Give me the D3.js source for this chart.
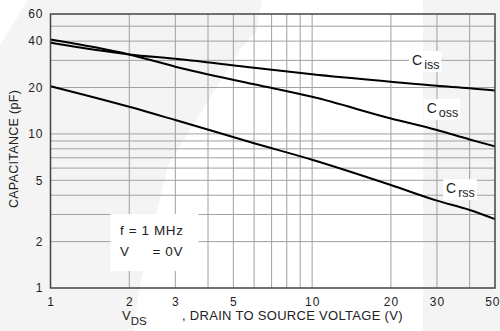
<!DOCTYPE html>
<html>
<head>
<meta charset="utf-8">
<script src="https://cdn.jsdelivr.net/npm/d3@7"></script>
<style>
  body { margin: 0; background: #fff; }
  text { font-family: "Liberation Sans", Arial, sans-serif; fill: #222; }
</style>
</head>
<body>
<script>
// drain-source voltage (V) where the curves were read
const vds = [1, 2, 3, 6, 10, 20, 30, 40, 50];

// capacitances in pF
const ciss = [39, 32.8, 30.7, 26.9, 24.4, 21.8, 20.5, 19.8, 19.1];
const coss = [41, 32.8, 27.3, 21.0, 17.4, 12.6, 10.6, 9.2, 8.3];
const crss = [20.4, 15.0, 12.3, 8.7, 6.8, 4.66, 3.69, 3.21, 2.8];

const xTicks = [1, 2, 3, 5, 10, 20, 30, 50];
const yTicks = [1, 2, 5, 10, 20, 40, 60];
const xGrid = [2, 3, 4, 5, 6, 7, 8, 9, 10, 20, 30, 40];
const yGrid = [2, 3, 4, 5, 6, 7, 8, 9, 10, 20, 30, 40, 50];

const curveLabels = [
  {name: 'C', sub: 'iss', x: 24.1, y: 28},
  {name: 'C', sub: 'oss', x: 27.4, y: 13.7},
  {name: 'C', sub: 'rss', x: 32.5, y: 4.13}
];

drawChart();

function drawChart() {
  const W = 500, H = 331;
  const margin = {top: 14, right: 5, bottom: 43, left: 50.5};
  const width = W - margin.left - margin.right;
  const height = H - margin.top - margin.bottom;

  const root = d3.select('body').append('svg')
    .attr('width', W)
    .attr('height', H);

  // faint watermark in the background
  root.append('rect').attr('width', W).attr('height', H).attr('fill', '#f4f4f4');
  root.append('polygon')
    .attr('points', '262,0 423,0 423,331 133,331 140,285 168,165 240,50 257,30')
    .attr('fill', '#fff');
  root.append('polygon')
    .attr('points', '0,0 28,0 0,45')
    .attr('fill', '#fff');

  const svg = root.append('g')
    .attr('transform', `translate(${margin.left}, ${margin.top})`);

  const xScale = d3.scaleLog()
    .domain([1, 50])
    .range([0, width]);

  const yScale = d3.scaleLog()
    .domain([1, 60])
    .range([height, 0]);

  // grid
  svg.append('g').selectAll('line')
    .data(xGrid)
    .enter().append('line')
    .attr('x1', d => xScale(d)).attr('x2', d => xScale(d))
    .attr('y1', 0).attr('y2', height)
    .attr('stroke', '#a0a0a0').attr('stroke-width', 1);

  svg.append('g').selectAll('line')
    .data(yGrid)
    .enter().append('line')
    .attr('y1', d => yScale(d)).attr('y2', d => yScale(d))
    .attr('x1', 0).attr('x2', width)
    .attr('stroke', '#a0a0a0').attr('stroke-width', 1);

  // curves
  const series = [ciss, coss, crss];
  const line = d3.line()
    .x((d, i) => xScale(vds[i]))
    .y(d => yScale(d))
    .curve(d3.curveMonotoneX);

  svg.selectAll('path.curve')
    .data(series)
    .enter().append('path')
    .attr('class', 'curve')
    .attr('d', d => line(d))
    .attr('fill', 'none')
    .attr('stroke', '#000')
    .attr('stroke-width', 2);

  // frame
  svg.append('rect')
    .attr('width', width).attr('height', height)
    .attr('fill', 'none')
    .attr('stroke', '#444')
    .attr('stroke-width', 1.5);

  // axes (labels only, the frame is drawn above)
  const bottomAxis = d3.axisBottom(xScale)
    .tickValues(xTicks)
    .tickFormat(d3.format('d'))
    .tickSize(0)
    .tickPadding(9);
  const leftAxis = d3.axisLeft(yScale)
    .tickValues(yTicks)
    .tickFormat(d3.format('d'))
    .tickSize(0)
    .tickPadding(7);

  const xAxisGroup = svg.append('g')
    .attr('transform', `translate(0, ${height})`)
    .call(bottomAxis);
  const yAxisGroup = svg.append('g')
    .call(leftAxis);

  [xAxisGroup, yAxisGroup].forEach(g => {
    g.select('.domain').remove();
    g.selectAll('text')
      .attr('font-family', '"Liberation Sans", Arial, sans-serif')
      .attr('font-size', 12)
      .attr('letter-spacing', 1)
      .attr('fill', '#222');
  });
  // last x label sits against the right edge
  xAxisGroup.selectAll('.tick text')
    .filter(d => d === 50)
    .attr('text-anchor', 'end')
    .attr('x', 5);

  // curve labels with white boxes
  curveLabels.forEach(l => {
    const g = svg.append('g');
    const t = g.append('text')
      .attr('x', xScale(l.x))
      .attr('y', yScale(l.y))
      .attr('font-size', 14);
    t.append('tspan').text(l.name);
    t.append('tspan').text(l.sub)
      .attr('font-size', 12.5)
      .attr('dx', 2)
      .attr('dy', 4);
    const bb = t.node().getBBox();
    g.insert('rect', 'text')
      .attr('x', bb.x - 3).attr('y', bb.y - 1)
      .attr('width', bb.width + 5).attr('height', bb.height + 1)
      .attr('fill', '#fff');
  });

  // conditions box
  const cond = svg.append('g');
  cond.append('rect')
    .attr('x', 60).attr('y', 200)
    .attr('width', 88).attr('height', 57)
    .attr('fill', '#fff');
  cond.append('text')
    .attr('x', 69.5).attr('y', 221)
    .attr('font-size', 13.5)
    .attr('letter-spacing', 0.6)
    .text('f = 1 MHz');
  cond.append('text')
    .attr('x', 69.5).attr('y', 242)
    .attr('font-size', 13.5)
    .text('V');
  cond.append('text')
    .attr('x', 102).attr('y', 242)
    .attr('font-size', 13.5)
    .attr('letter-spacing', 0.6)
    .text('= 0V');

  // axis titles
  root.append('text')
    .attr('transform', 'translate(17.5, 149) rotate(-90)')
    .attr('text-anchor', 'middle')
    .attr('font-size', 12.5)
    .attr('letter-spacing', 0.3)
    .text('CAPACITANCE (pF)');

  const xt = root.append('text')
    .attr('x', 122)
    .attr('y', 320)
    .attr('font-size', 13);
  xt.append('tspan').text('V');
  xt.append('tspan').text('DS')
    .attr('font-size', 11.5)
    .attr('dy', 5);
  root.append('text')
    .attr('x', 182)
    .attr('y', 320)
    .attr('font-size', 13)
    .attr('letter-spacing', 0.3)
    .text(', DRAIN TO SOURCE VOLTAGE (V)');
}
</script>
</body>
</html>
